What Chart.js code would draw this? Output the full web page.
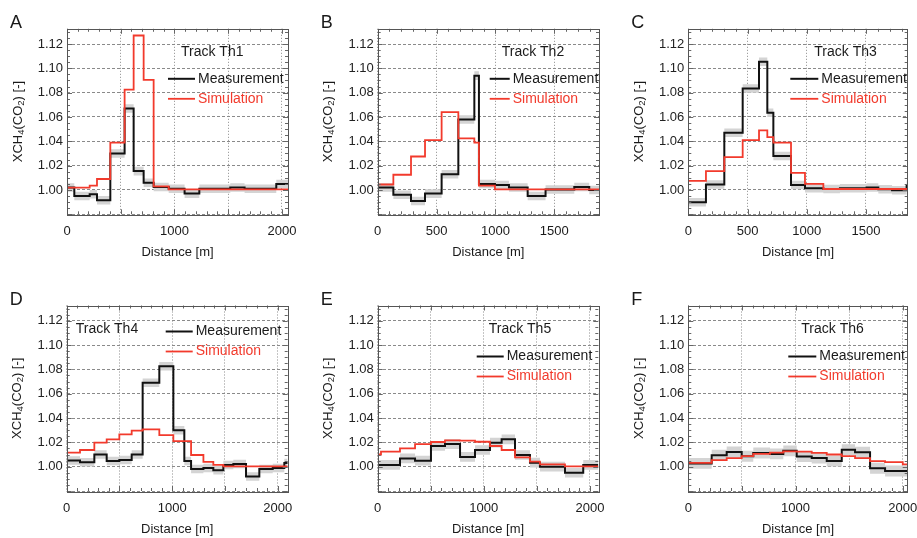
<!DOCTYPE html>
<html>
<head>
<meta charset="utf-8">
<script src="https://cdn.jsdelivr.net/npm/chart.js@4.4.1/dist/chart.umd.min.js"></script>
<style>
  html, body { margin: 0; padding: 0; background: #fff; }
  #sheet { position: relative; width: 917px; height: 538px; overflow: hidden; }
  #sheet canvas { position: absolute; }
</style>
</head>
<body>
<div id="sheet"></div>
<script>
// XCH4(CO2) along six tracks: bin edges in metres, one value per bin

// Track Th1
const th1MeasEdges = [0, 68, 211, 279, 403, 536, 620, 713, 806, 946, 1094, 1231, 1519, 1652, 1947, 2056];
const th1MeasVals  = [1.002, 0.995, 0.9965, 0.9915, 1.030, 1.067, 1.0155, 1.006, 1.0025, 1.001, 0.997, 1.001, 1.002, 1.001, 1.005];
const th1SimEdges  = [0, 211, 279, 403, 536, 620, 713, 806, 946, 2056];
const th1SimVals   = [1.002, 1.0035, 1.009, 1.039, 1.0825, 1.127, 1.0905, 1.003, 1.0005];

// Track Th2
const th2MeasEdges = [0, 133, 283, 402, 543, 685, 821, 860, 996, 1115, 1274, 1426, 1670, 1797, 1880];
const th2MeasVals  = [1.002, 0.996, 0.991, 0.997, 1.013, 1.058, 1.094, 1.005, 1.004, 1.002, 0.995, 1.0003, 1.0025, 1.000];
const th2SimEdges  = [0, 133, 283, 402, 543, 685, 821, 860, 996, 1880];
const th2SimVals   = [1.0045, 1.0125, 1.0275, 1.041, 1.064, 1.0425, 1.039, 1.0035, 1.0005];

// Track Th3
const th3MeasEdges = [0, 149, 304, 459, 597, 667, 718, 867, 985, 1140, 1280, 1505, 1604, 1720, 1843, 1852];
const th3MeasVals  = [0.990, 1.0045, 1.047, 1.0835, 1.1055, 1.0635, 1.028, 1.004, 1.0015, 1.0008, 1.0014, 1.002, 1.0006, 0.9998, 1.004];
const th3SimEdges  = [0, 149, 304, 459, 597, 667, 718, 867, 985, 1140, 1852];
const th3SimVals   = [1.0075, 1.0155, 1.027, 1.041, 1.049, 1.0435, 1.039, 1.014, 1.005, 1.0008];

// Track Th4
const th4MeasEdges = [0, 126, 262, 379, 499, 616, 720, 878, 1011, 1115, 1179, 1296, 1390, 1485, 1580, 1700, 1826, 1953, 2063, 2095];
const th4MeasVals  = [1.005, 1.0036, 1.010, 1.0047, 1.0055, 1.010, 1.069, 1.0825, 1.030, 1.0047, 0.998, 0.999, 0.997, 1.0014, 1.0022, 0.992, 0.998, 0.999, 1.003];
const th4SimEdges  = [0, 126, 262, 379, 499, 616, 720, 878, 1011, 1179, 1296, 1390, 1485, 2095];
const th4SimVals   = [1.0115, 1.0137, 1.0197, 1.0225, 1.0266, 1.0296, 1.0307, 1.026, 1.021, 1.0096, 1.004, 1.0014, 1.0002];

// Track Th5
const th5MeasEdges = [0, 210, 352, 502, 634, 776, 917, 1058, 1168, 1294, 1435, 1529, 1765, 1937, 2079];
const th5MeasVals  = [1.0014, 1.0068, 1.0049, 1.017, 1.0186, 1.008, 1.0137, 1.0197, 1.0225, 1.0096, 1.0033, 1.000, 0.995, 1.0014];
const th5SimEdges  = [0, 31, 210, 352, 502, 634, 776, 917, 1058, 1168, 1294, 1435, 1529, 1765, 2079];
const th5SimVals   = [1.010, 1.0123, 1.015, 1.0186, 1.0203, 1.0216, 1.0214, 1.0205, 1.017, 1.0137, 1.0077, 1.0041, 1.0019, 1.0002];

// Track Th6
const th6MeasEdges = [0, 218, 358, 498, 606, 762, 886, 1011, 1151, 1291, 1431, 1555, 1695, 1835, 2046];
const th6MeasVals  = [1.0027, 1.0094, 1.012, 1.0086, 1.0113, 1.0105, 1.013, 1.0083, 1.0072, 1.0046, 1.014, 1.0118, 0.9987, 0.9965];
const th6SimEdges  = [0, 218, 358, 498, 606, 762, 886, 1011, 1151, 1291, 1431, 1555, 1695, 1835, 2000, 2046];
const th6SimVals   = [1.0032, 1.0054, 1.007, 1.0086, 1.0105, 1.0115, 1.0126, 1.0124, 1.0113, 1.010, 1.0086, 1.007, 1.0046, 1.0038, 1.0019];

// half width of the measurement uncertainty band, per track
const bandHalfWidth = [0.0035, 0.0035, 0.0035, 0.0035, 0.004, 0.0045];

const panelLetters = ['A', 'B', 'C', 'D', 'E', 'F'];
const trackNames = ['Track Th1', 'Track Th2', 'Track Th3', 'Track Th4', 'Track Th5', 'Track Th6'];
const yTickLabels = ['1.00', '1.02', '1.04', '1.06', '1.08', '1.10', '1.12'];
const xTickLabelsWide = [0, 1000, 2000];
const xTickLabelsShort = [0, 500, 1000, 1500];

const tracks = [
    { measEdges: th1MeasEdges, measVals: th1MeasVals, simEdges: th1SimEdges, simVals: th1SimVals, xLabels: xTickLabelsWide },
    { measEdges: th2MeasEdges, measVals: th2MeasVals, simEdges: th2SimEdges, simVals: th2SimVals, xLabels: xTickLabelsShort },
    { measEdges: th3MeasEdges, measVals: th3MeasVals, simEdges: th3SimEdges, simVals: th3SimVals, xLabels: xTickLabelsShort },
    { measEdges: th4MeasEdges, measVals: th4MeasVals, simEdges: th4SimEdges, simVals: th4SimVals, xLabels: xTickLabelsWide },
    { measEdges: th5MeasEdges, measVals: th5MeasVals, simEdges: th5SimEdges, simVals: th5SimVals, xLabels: xTickLabelsWide },
    { measEdges: th6MeasEdges, measVals: th6MeasVals, simEdges: th6SimEdges, simVals: th6SimVals, xLabels: xTickLabelsWide }
];

// page cells and plot boxes (px), legend offsets relative to plot top-left
const layout = [
    { cell: [0, 0, 305, 270],     plot: [67, 28.8, 288, 214.3],    track: [114, 23], line: [101, 128], rows: [50, 70], text: 130 },
    { cell: [305, 0, 305, 270],   plot: [377.7, 28.8, 599, 214.3], track: [124, 23], line: [112, 132], rows: [50, 70], text: 134 },
    { cell: [610, 0, 307, 270],   plot: [688.3, 28.8, 907.7, 214.3], track: [126, 23], line: [102, 130], rows: [50, 70], text: 132 },
    { cell: [0, 270, 305, 268],   plot: [66.7, 305.5, 287.7, 491], track: [9, 24],    line: [99, 126],  rows: [26, 46], text: 128 },
    { cell: [305, 270, 305, 268], plot: [377.7, 305.5, 598.3, 491], track: [111, 24], line: [99, 126],  rows: [51, 71], text: 128 },
    { cell: [610, 270, 307, 268], plot: [688.3, 305.5, 907.7, 491], track: [113, 24], line: [100, 128], rows: [51, 71], text: 130 }
];

const FONT = "'Liberation Sans', Arial, Helvetica, sans-serif";
const RED = '#f23a2c';
const Y_MIN = 0.98;
const Y_MAX = 1.1325;

Chart.defaults.font.family = FONT;
Chart.defaults.font.size = 13;
Chart.defaults.color = '#222';

// each bin becomes a flat segment from its left edge to its right edge
function stepPoints(edges, vals, shift = 0) {
    const pts = [];
    vals.forEach((v, i) => {
        pts.push({ x: edges[i], y: v + shift });
        pts.push({ x: edges[i + 1], y: v + shift });
    });
    return pts;
}

// box around the plot with inward ticks on all four sides
function framePlugin() {
    return {
        id: 'frame',
        afterDatasetsDraw(chart) {
            const { ctx, chartArea: a, scales } = chart;
            const xs = scales.x, ys = scales.y;
            ctx.save();
            ctx.strokeStyle = '#666';
            ctx.lineWidth = 1;
            ctx.beginPath();
            for (let v = 0; v <= xs.max + 1e-6; v += 100) {
                const px = Math.round(xs.getPixelForValue(v)) + 0.5;
                const len = v % 500 === 0 ? 5 : 3;
                ctx.moveTo(px, a.bottom); ctx.lineTo(px, a.bottom - len);
                ctx.moveTo(px, a.top); ctx.lineTo(px, a.top + len);
            }
            for (let k = 0; k * 0.005 + Y_MIN <= Y_MAX + 1e-9; k++) {
                const py = Math.round(ys.getPixelForValue(Y_MIN + k * 0.005)) + 0.5;
                const len = k % 4 === 0 ? 5 : 3;
                ctx.moveTo(a.left, py); ctx.lineTo(a.left + len, py);
                ctx.moveTo(a.right, py); ctx.lineTo(a.right - len, py);
            }
            ctx.stroke();
            ctx.strokeStyle = '#555';
            ctx.strokeRect(Math.round(a.left) + 0.5, Math.round(a.top) + 0.5,
                Math.round(a.right - a.left), Math.round(a.bottom - a.top));
            ctx.restore();
        }
    };
}

// letter, x tick labels, axis titles, track name and legend
function textPlugin(idx) {
    const lay = layout[idx];
    const xLabels = tracks[idx].xLabels;
    return {
        id: 'panelText',
        afterDraw(chart) {
            const { ctx, chartArea: a } = chart;
            const xs = chart.scales.x;
            ctx.save();
            ctx.fillStyle = '#1a1a1a';

            ctx.font = `18px ${FONT}`;
            ctx.textAlign = 'left';
            ctx.textBaseline = 'alphabetic';
            ctx.fillText(panelLetters[idx], a.left - 57, a.top - 1);

            ctx.font = `13px ${FONT}`;
            ctx.textAlign = 'center';
            ctx.textBaseline = 'middle';
            xLabels.forEach(v => ctx.fillText(String(v), xs.getPixelForValue(v), a.bottom + 17));
            ctx.fillText('Distance [m]', (a.left + a.right) / 2, a.bottom + 38);

            // rotated y title with subscripts
            const parts = [['XCH', 13, 0], ['4', 9.5, 3], ['(CO', 13, 0], ['2', 9.5, 3], [') [-]', 13, 0]];
            let total = 0;
            parts.forEach(p => { ctx.font = `${p[1]}px ${FONT}`; total += ctx.measureText(p[0]).width; });
            ctx.translate(a.left - 49, (a.top + a.bottom) / 2);
            ctx.rotate(-Math.PI / 2);
            ctx.textAlign = 'left';
            let cx = -total / 2;
            parts.forEach(p => {
                ctx.font = `${p[1]}px ${FONT}`;
                ctx.fillText(p[0], cx, p[2]);
                cx += ctx.measureText(p[0]).width;
            });
            ctx.setTransform(1, 0, 0, 1, 0, 0);

            ctx.font = `14px ${FONT}`;
            ctx.textAlign = 'left';
            ctx.textBaseline = 'middle';
            ctx.fillText(trackNames[idx], a.left + lay.track[0], a.top + lay.track[1]);

            const entries = [['Measurement', '#111', 2], ['Simulation', RED, 1.8]];
            entries.forEach((e, i) => {
                const y = a.top + lay.rows[i];
                ctx.strokeStyle = e[1];
                ctx.lineWidth = e[2];
                ctx.beginPath();
                ctx.moveTo(a.left + lay.line[0], y);
                ctx.lineTo(a.left + lay.line[1], y);
                ctx.stroke();
                ctx.fillStyle = i === 0 ? '#1a1a1a' : RED;
                ctx.fillText(e[0], a.left + lay.text + 1, y);
            });
            ctx.restore();
        }
    };
}

const sheet = document.getElementById('sheet');

tracks.forEach((t, idx) => {
    const lay = layout[idx];
    const [cx, cy, cw, ch] = lay.cell;
    const [pl, pt, pr, pb] = lay.plot;
    const xMax = t.measEdges[t.measEdges.length - 1];
    const half = bandHalfWidth[idx];
    const yAxisWidth = pl - cx;
    const xAxisHeight = cy + ch - pb;

    const canvas = document.createElement('canvas');
    canvas.width = cw;
    canvas.height = ch;
    canvas.style.left = cx + 'px';
    canvas.style.top = cy + 'px';
    sheet.appendChild(canvas);

    new Chart(canvas, {
        type: 'line',
        data: {
            datasets: [
                { data: stepPoints(t.measEdges, t.measVals, half), borderWidth: 0, pointRadius: 0, fill: false, order: 4 },
                { data: stepPoints(t.measEdges, t.measVals, -half), borderWidth: 0, pointRadius: 0,
                  fill: '-1', backgroundColor: '#d4d4d4', order: 3 },
                { label: 'Measurement', data: stepPoints(t.measEdges, t.measVals), borderColor: '#111',
                  borderWidth: 2, pointRadius: 0, fill: false, order: 2 },
                { label: 'Simulation', data: stepPoints(t.simEdges, t.simVals), borderColor: RED,
                  borderWidth: 1.8, pointRadius: 0, fill: false, order: 1 }
            ]
        },
        options: {
            responsive: false,
            animation: false,
            devicePixelRatio: 1,
            layout: {
                padding: { left: 0, top: pt - cy, right: cx + cw - pr, bottom: 0 }
            },
            plugins: { legend: { display: false }, tooltip: { enabled: false } },
            scales: {
                x: {
                    type: 'linear',
                    min: 0,
                    max: xMax,
                    afterFit(s) { s.height = xAxisHeight; s.paddingLeft = 0; s.paddingRight = 0; },
                    afterBuildTicks(s) {
                        const vals = [];
                        for (let v = 0; v <= xMax; v += 500) vals.push({ value: v });
                        s.ticks = vals;
                    },
                    grid: { color: '#8a8a8a', lineWidth: 1, drawTicks: false },
                    border: { display: false, dash: [1, 2] },
                    ticks: { display: false }
                },
                y: {
                    min: Y_MIN,
                    max: Y_MAX,
                    afterFit(s) { s.width = yAxisWidth; s.paddingTop = 0; s.paddingBottom = 0; },
                    grid: { color: '#8a8a8a', lineWidth: 1, drawTicks: false },
                    border: { display: false, dash: [3, 2] },
                    ticks: {
                        stepSize: 0.02,
                        includeBounds: false,
                        padding: 4,
                        font: { size: 13 },
                        callback: v => {
                            const s = v.toFixed(2);
                            return yTickLabels.includes(s) ? s : '';
                        }
                    }
                }
            }
        },
        plugins: [framePlugin(), textPlugin(idx)]
    });
});
</script>
</body>
</html>
